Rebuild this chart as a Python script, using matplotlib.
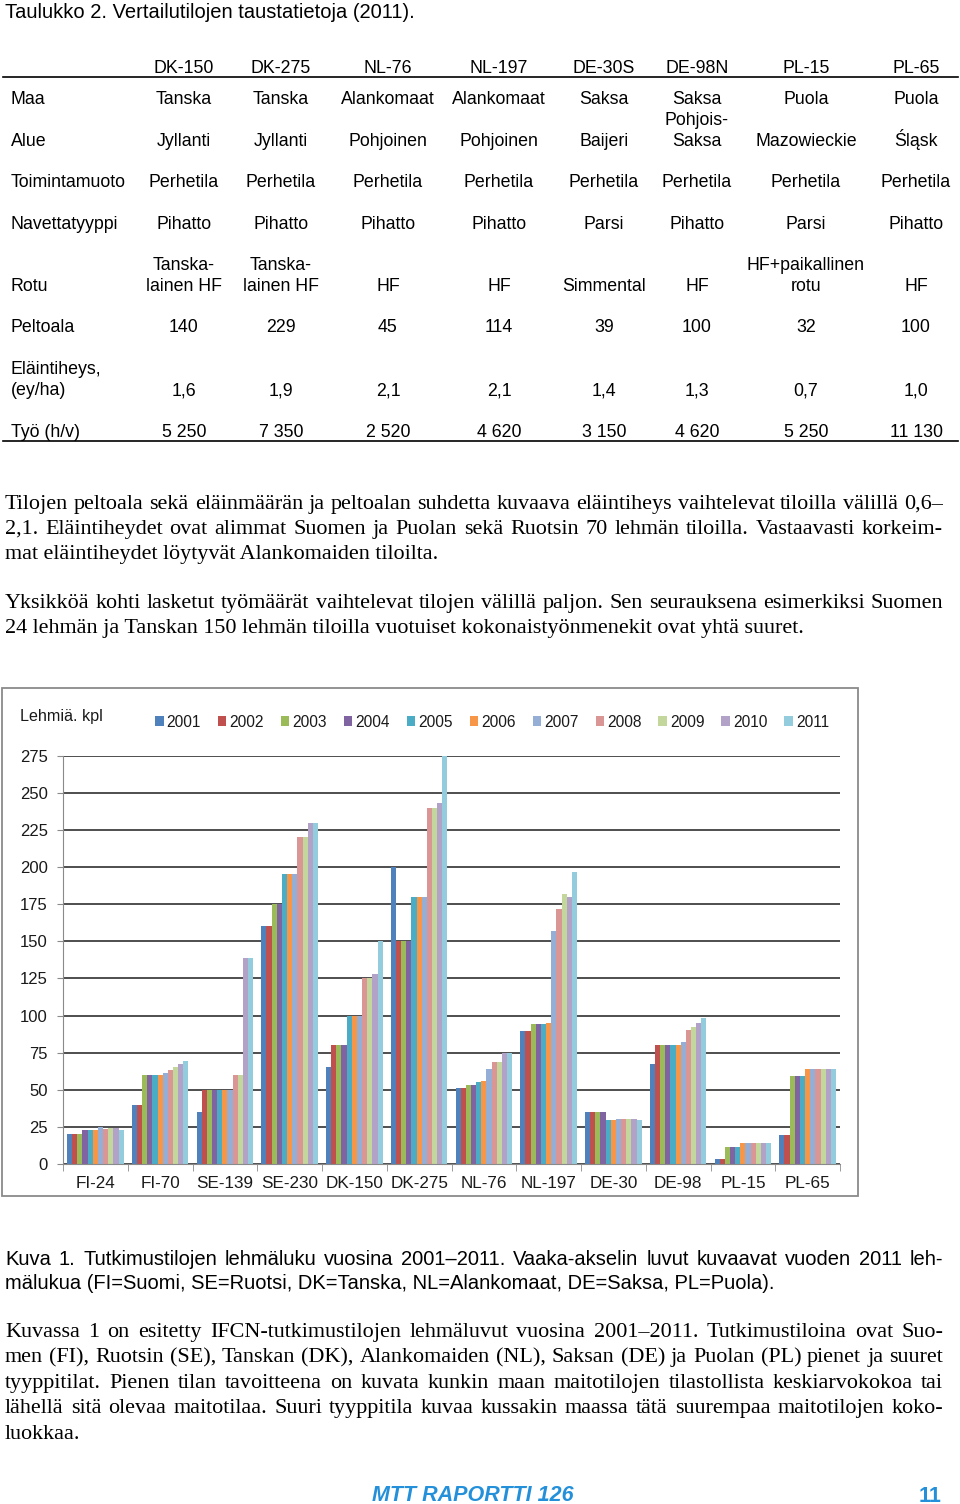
import numpy as np
import matplotlib
matplotlib.use('Agg')
import matplotlib.pyplot as plt
from matplotlib.patches import Rectangle

plt.rcParams['font.family'] = ['Liberation Sans', 'DejaVu Sans']

W, H = 960, 1504

# --- table data (Taulukko 2) ---
farms_tbl = ['DK-150', 'DK-275', 'NL-76', 'NL-197', 'DE-30S', 'DE-98N', 'PL-15', 'PL-65']
maa = ['Tanska', 'Tanska', 'Alankomaat', 'Alankomaat', 'Saksa', 'Saksa', 'Puola', 'Puola']
alue = ['Jyllanti', 'Jyllanti', 'Pohjoinen', 'Pohjoinen', 'Baijeri', 'Pohjois-\nSaksa', 'Mazowieckie', 'Śląsk']
toimintamuoto = ['Perhetila'] * 8
navetta = ['Pihatto', 'Pihatto', 'Pihatto', 'Pihatto', 'Parsi', 'Pihatto', 'Parsi', 'Pihatto']
rotu = ['Tanska-\nlainen HF', 'Tanska-\nlainen HF', 'HF', 'HF', 'Simmental', 'HF', 'HF+paikallinen\nrotu', 'HF']
peltoala = ['140', '229', '45', '114', '39', '100', '32', '100']
tiheys = ['1,6', '1,9', '2,1', '2,1', '1,4', '1,3', '0,7', '1,0']
tyo = ['5 250', '7 350', '2 520', '4 620', '3 150', '4 620', '5 250', '11 130']

# --- chart data (Kuva 1), cows per farm 2001..2011 ---
years = ['2001', '2002', '2003', '2004', '2005', '2006', '2007', '2008', '2009', '2010', '2011']
farms = ['FI-24', 'FI-70', 'SE-139', 'SE-230', 'DK-150', 'DK-275', 'NL-76', 'NL-197', 'DE-30', 'DE-98', 'PL-15', 'PL-65']
fi24 = [20, 20, 20, 23, 23, 23, 25, 23.5, 24, 24, 23]
fi70 = [40, 40, 60, 60, 60, 60, 61.5, 63.5, 65.5, 67.5, 69.5]
se139 = [35, 50, 50, 50, 50, 50, 50, 60, 60, 139, 139]
se230 = [160, 160, 175, 175, 195, 195, 195, 220, 220, 230, 230]
dk150 = [65, 80, 80, 80, 100, 100, 100, 125, 125, 128, 150]
dk275 = [200, 150, 150, 150, 180, 180, 180, 240, 240, 243, 275]
nl76 = [51, 51, 53, 53, 55, 56, 64, 69, 69, 75, 75]
nl197 = [89.5, 89.5, 94, 94, 94, 95, 157, 172, 182, 180, 197]
de30 = [35, 35, 35, 35, 29.5, 29.5, 30, 30, 30, 30, 29.5]
de98 = [67.5, 80, 80, 80, 80, 80, 82, 90, 92, 95, 98]
pl15 = [3.3, 3.3, 11.3, 11.3, 11.3, 14.4, 14.4, 14.4, 14.4, 14.4, 14.4]
pl65 = [19.5, 19.5, 59, 59, 59, 64, 64, 64, 64, 64, 64]
colors = ['#4F81BD', '#C0504D', '#9BBB59', '#8064A2', '#4BACC6', '#F79646',
          '#95AED6', '#D99694', '#C3D69B', '#B3A2C7', '#93CDDD']

fig = plt.figure(figsize=(W / 100, H / 100), dpi=100)
rend = fig.canvas.get_renderer()


def fx(x):
    return x / W


def fy(y):
    return 1 - y / H


def put(x, y, s, **kw):
    kw.setdefault('va', 'baseline')
    return fig.text(fx(x), fy(y), s, **kw)


def justify(line, y, x0=5, x1=943, **kw):
    # spread the words of one line from x0 to x1, like justified print
    words = line.split(' ')
    ts = [put(0, y, w, **kw) for w in words]
    ws = [t.get_window_extent(rend).width for t in ts]
    gap = (x1 - x0 - sum(ws)) / (len(words) - 1)
    x = x0
    for t, w in zip(ts, ws):
        t.set_position((fx(x), fy(y)))
        x += w + gap


# ---- table ----
tfs = 12.8
put(5, 18, 'Taulukko 2. Vertailutilojen taustatietoja (2011).', fontsize=14.5)
colx = [184, 281, 388, 499, 604, 697, 806, 916]
for x, f in zip(colx, farms_tbl):
    put(x, 73, f, fontsize=tfs, ha='center')
fig.add_artist(plt.Line2D([fx(3), fx(958)], [fy(77), fy(77)], color='black', lw=1.2))
fig.add_artist(plt.Line2D([fx(3), fx(958)], [fy(441), fy(441)], color='black', lw=1.2))

rows = [('Maa', maa, 104), ('Alue', alue, 146), ('Toimintamuoto', toimintamuoto, 187),
        ('Navettatyyppi', navetta, 229), ('Rotu', rotu, 291), ('Peltoala', peltoala, 332),
        ('Eläintiheys,\n(ey/ha)', tiheys, 395), ('Työ (h/v)', tyo, 437)]
for lab, vals, base in rows:
    lines = lab.split('\n')
    for k, l in enumerate(lines):
        put(11, base - 21 * (len(lines) - 1 - k), l, fontsize=tfs)
    for x, v in zip(colx, vals):
        parts = v.split('\n')
        for k, p in enumerate(parts):
            put(x, base - 21 * (len(parts) - 1 - k), p, fontsize=tfs, ha='center')

# ---- body text ----
serif = dict(fontsize=15.9, family=['Liberation Serif', 'DejaVu Serif'])
justify('Tilojen peltoala sekä eläinmäärän ja peltoalan suhdetta kuvaava eläintiheys vaihtelevat tiloilla välillä 0,6–', 509, **serif)
justify('2,1. Eläintiheydet ovat alimmat Suomen ja Puolan sekä Ruotsin 70 lehmän tiloilla. Vastaavasti korkeim-', 534, **serif)
put(5, 559, 'mat eläintiheydet löytyvät Alankomaiden tiloilta.', **serif)
justify('Yksikköä kohti lasketut työmäärät vaihtelevat tilojen välillä paljon. Sen seurauksena esimerkiksi Suomen', 608, **serif)
put(5, 633, '24 lehmän ja Tanskan 150 lehmän tiloilla vuotuiset kokonaistyönmenekit ovat yhtä suuret.', **serif)

# ---- chart ----
fig.add_artist(Rectangle((fx(2), fy(1196)), fx(856), (1196 - 688) / H,
                         transform=fig.transFigure, fill=False, ec='#8a8a8a', lw=1.3))
ax = fig.add_axes([fx(63), fy(1164), (840 - 63) / W, (1164 - 755.7) / H])
data = np.array([fi24, fi70, se139, se230, dk150, dk275, nl76, nl197, de30, de98, pl15, pl65])
x = np.arange(len(farms))
bw = 0.875 / len(years)
for j, yr in enumerate(years):
    ax.bar(x + (j - 5) * bw, data[:, j], width=bw, color=colors[j], label=yr, lw=0)

ax.set_xlim(-0.5, 11.5)
ax.set_ylim(0, 275)
ax.set_yticks(np.arange(0, 276, 25))
ax.yaxis.grid(True, color='#1e1e1e', lw=1.1)
ax.set_axisbelow(True)
for s in ['top', 'right']:
    ax.spines[s].set_visible(False)
ax.spines['left'].set_color('#8a8a8a')
ax.spines['bottom'].set_color('#8a8a8a')
ax.set_xticks(x, farms)
ax.set_xticks(np.arange(-0.5, 12, 1), minor=True)
ax.tick_params(axis='x', which='major', length=0, pad=9, labelsize=12.3, labelcolor='#1a1a1a')
ax.tick_params(axis='x', which='minor', length=5, color='#8a8a8a')
ax.tick_params(axis='y', length=4, color='#8a8a8a', pad=7, labelsize=12, labelcolor='#1a1a1a')

put(20, 721, 'Lehmiä. kpl', fontsize=11.6, color='#1a1a1a')
fig.legend(loc='center left', bbox_to_anchor=(fx(155), fy(722)), ncol=11, frameon=False,
           fontsize=11.2, handlelength=0.55, handleheight=0.55, handletextpad=0.2,
           columnspacing=1.08, borderpad=0, borderaxespad=0, labelcolor='#1a1a1a')

# ---- caption and text ----
justify('Kuva 1. Tutkimustilojen lehmäluku vuosina 2001–2011. Vaaka-akselin luvut kuvaavat vuoden 2011 leh-', 1265, fontsize=14.5)
put(5, 1289, 'mälukua (FI=Suomi, SE=Ruotsi, DK=Tanska, NL=Alankomaat, DE=Saksa, PL=Puola).', fontsize=14.5)

justify('Kuvassa 1 on esitetty IFCN-tutkimustilojen lehmäluvut vuosina 2001–2011. Tutkimustiloina ovat Suo-', 1337, **serif)
justify('men (FI), Ruotsin (SE), Tanskan (DK), Alankomaiden (NL), Saksan (DE) ja Puolan (PL) pienet ja suuret', 1362, **serif)
justify('tyyppitilat. Pienen tilan tavoitteena on kuvata kunkin maan maitotilojen tilastollista keskiarvokokoa tai', 1388, **serif)
justify('lähellä sitä olevaa maitotilaa. Suuri tyyppitila kuvaa kussakin maassa tätä suurempaa maitotilojen koko-', 1413, **serif)
put(5, 1439, 'luokkaa.', **serif)

blue = '#2490DA'
put(473, 1501, 'MTT RAPORTTI 126', fontsize=15.5, weight='heavy', style='italic', color=blue, ha='center',
    family=['Liberation Sans Narrow', 'Liberation Sans'])
put(941, 1502, '11', fontsize=15.5, weight='bold', color=blue, ha='right',
    family=['Liberation Sans Narrow', 'Liberation Sans'])

fig.savefig('out.png', dpi=100)
